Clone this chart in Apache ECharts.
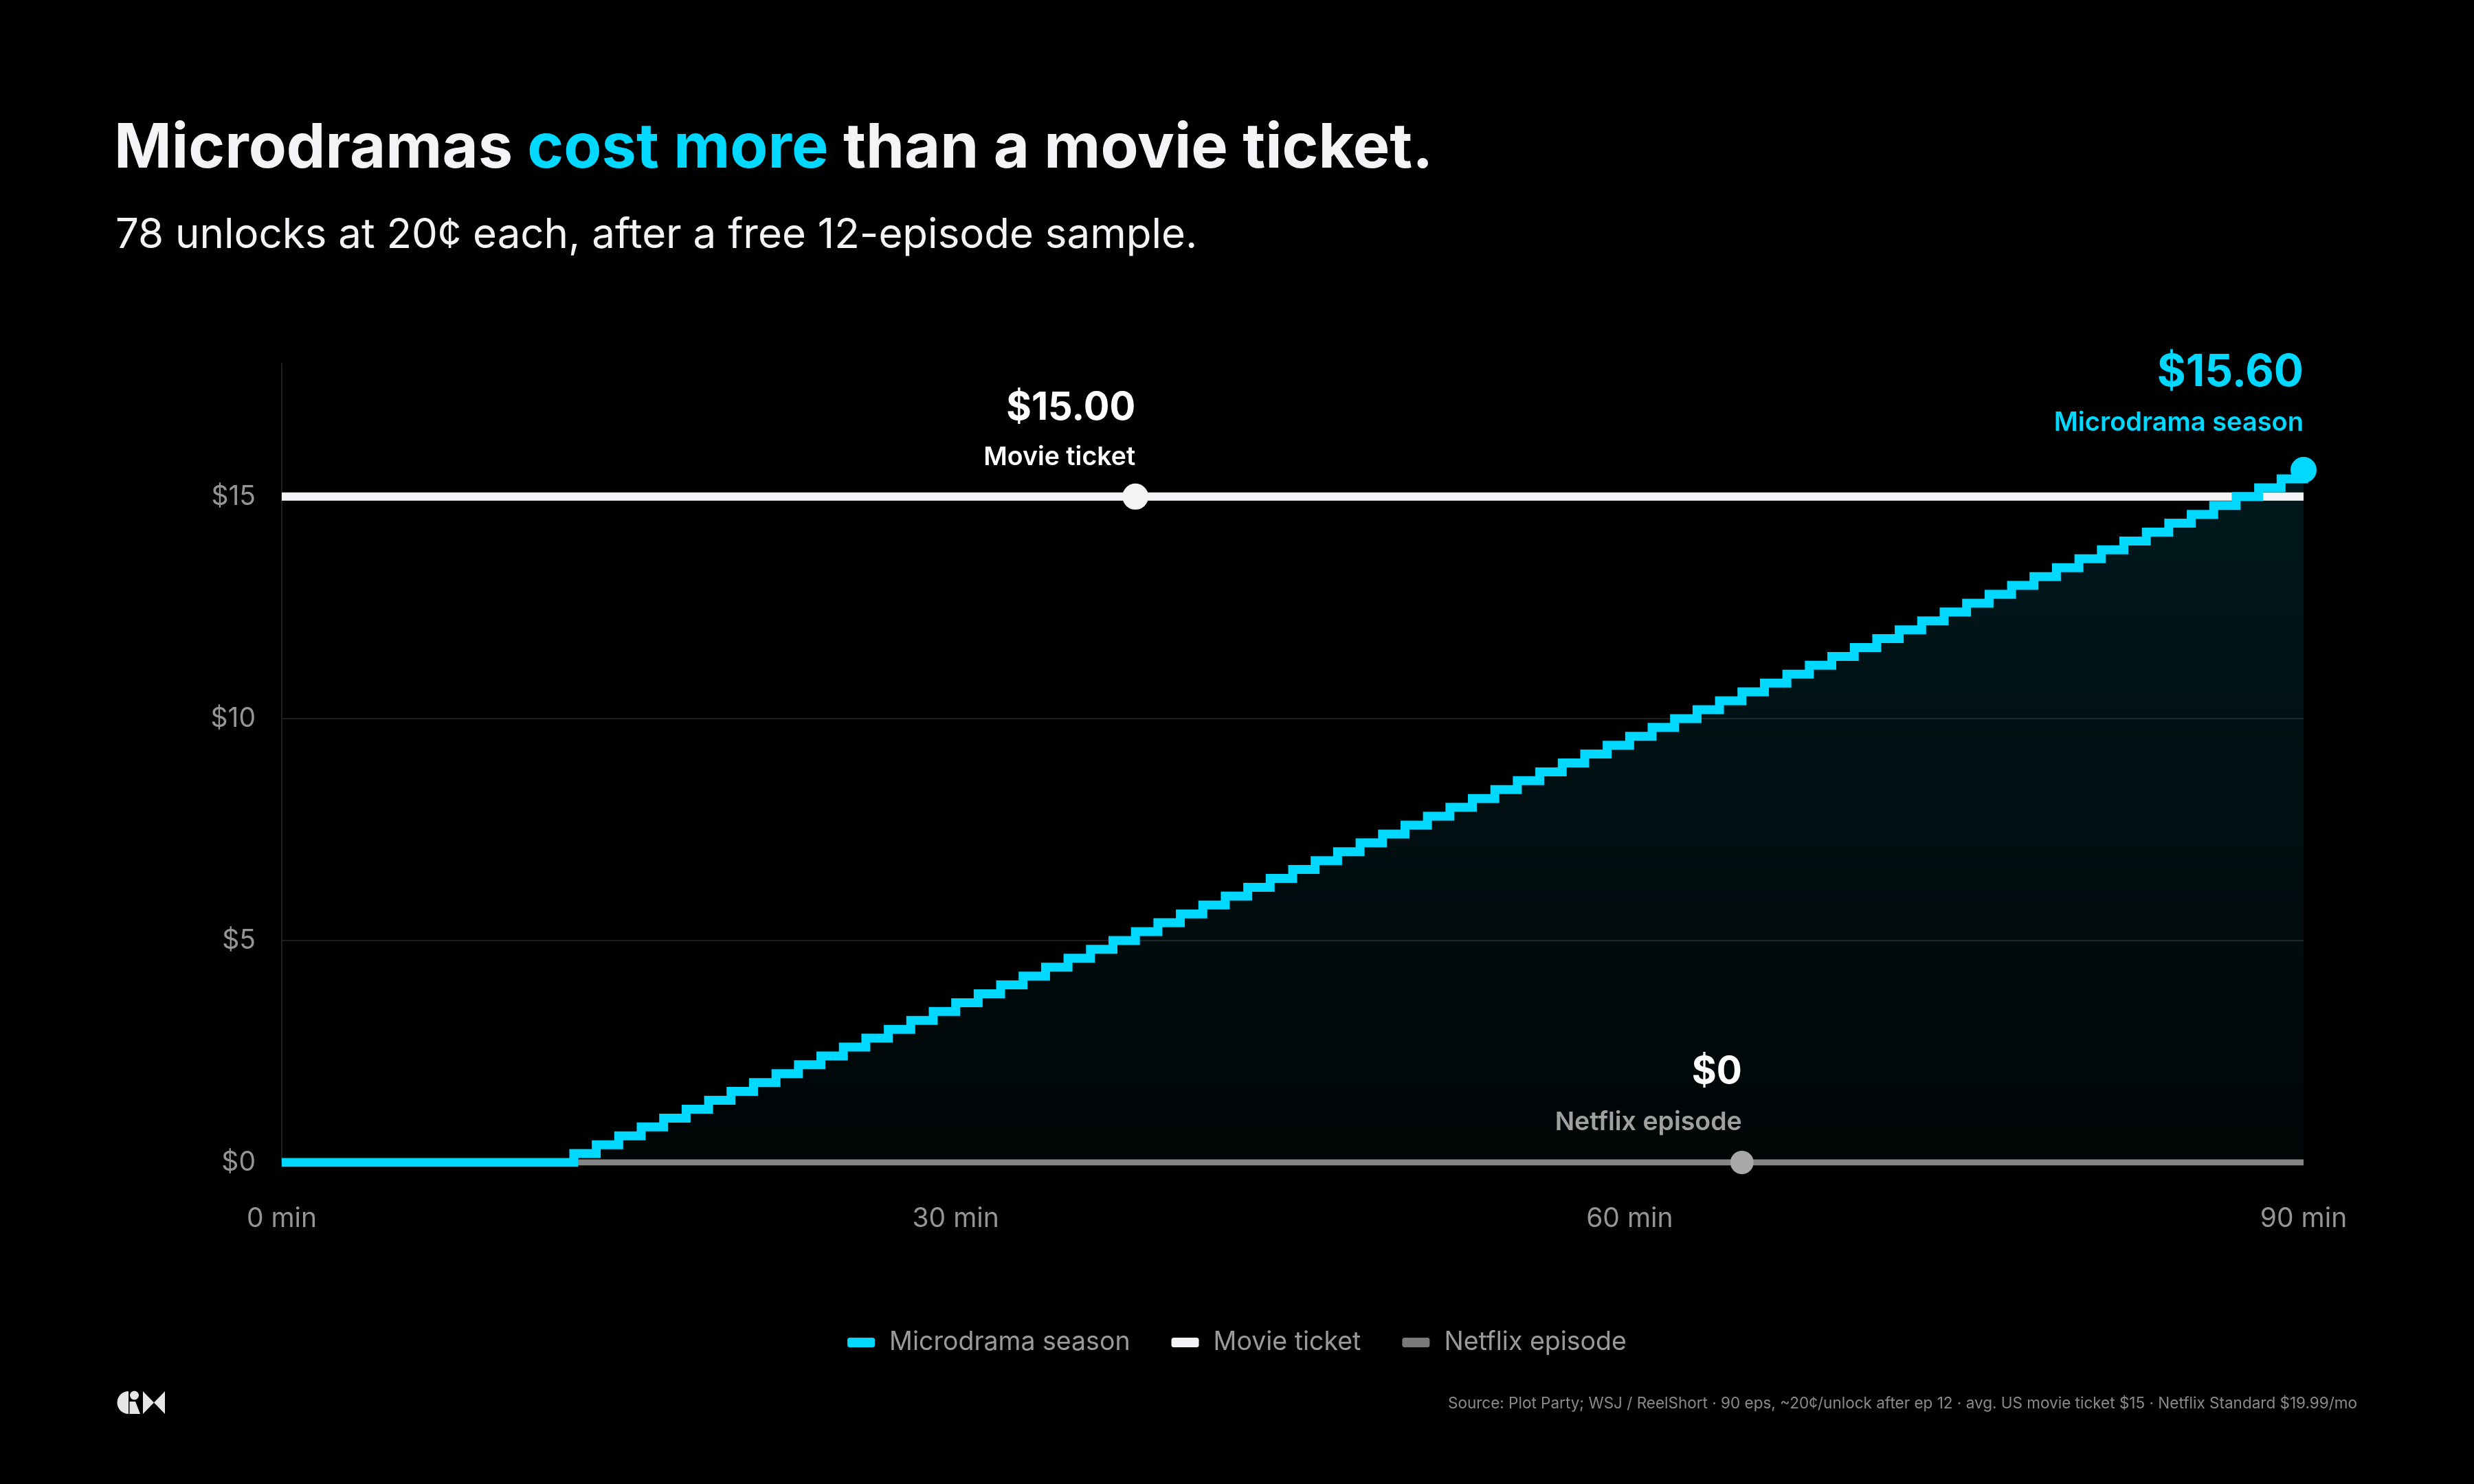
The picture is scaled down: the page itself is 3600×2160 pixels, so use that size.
<!doctype html>
<html lang="en">
<head>
    <meta charset="UTF-8">
    <title>Microdramas cost more than a movie ticket</title>
    <script src="https://cdn.jsdelivr.net/npm/echarts@6/dist/echarts.min.js"></script>
    <style>
        html, body { margin: 0; padding: 0; background: #000; }
        #main { width: 3600px; height: 2160px; }
    </style>
</head>
<body>
<div id="main"></div>
<script>
    // minutes watched (one episode per minute)
    var minutes = [0, 1, 2, 3, 4, 5, 6, 7, 8, 9, 10, 11, 12, 13, 14, 15, 16, 17, 18, 19,
        20, 21, 22, 23, 24, 25, 26, 27, 28, 29, 30, 31, 32, 33, 34, 35, 36, 37, 38, 39,
        40, 41, 42, 43, 44, 45, 46, 47, 48, 49, 50, 51, 52, 53, 54, 55, 56, 57, 58, 59,
        60, 61, 62, 63, 64, 65, 66, 67, 68, 69, 70, 71, 72, 73, 74, 75, 76, 77, 78, 79,
        80, 81, 82, 83, 84, 85, 86, 87, 88, 89, 90];
    // running cost of the microdrama season, $
    var microCost = [0, 0, 0, 0, 0, 0, 0, 0, 0, 0, 0, 0, 0,
        0.2, 0.4, 0.6, 0.8, 1.0, 1.2, 1.4, 1.6, 1.8, 2.0, 2.2, 2.4, 2.6, 2.8, 3.0, 3.2, 3.4,
        3.6, 3.8, 4.0, 4.2, 4.4, 4.6, 4.8, 5.0, 5.2, 5.4, 5.6, 5.8, 6.0, 6.2, 6.4, 6.6, 6.8,
        7.0, 7.2, 7.4, 7.6, 7.8, 8.0, 8.2, 8.4, 8.6, 8.8, 9.0, 9.2, 9.4, 9.6, 9.8, 10.0, 10.2,
        10.4, 10.6, 10.8, 11.0, 11.2, 11.4, 11.6, 11.8, 12.0, 12.2, 12.4, 12.6, 12.8, 13.0,
        13.2, 13.4, 13.6, 13.8, 14.0, 14.2, 14.4, 14.6, 14.8, 15.0, 15.2, 15.4, 15.6];
    var microLabelAt = 90;

    var movieMinutes = [0, 38, 90];
    var movieCost = [15, 15, 15];
    var movieLabelAt = 38;

    var netflixMinutes = [0, 65, 90];
    var netflixCost = [0, 0, 0];
    var netflixLabelAt = 65;

    var CYAN = '#00D8FF';
    var WHITE = '#F4F4F6';
    var GRAY = '#858585';
    var FONT = 'Inter';

    function money(v) {
        return v === 0 ? '$0' : '$' + v.toFixed(2);
    }

    function callout(color, nameColor, bigSize, bigLH, nameSize, dist) {
        return {
            show: true,
            position: 'top',
            align: 'right',
            distance: dist,
            formatter: function (p) {
                return '{v|' + money(p.value[1]) + '}\n{n|' + p.seriesName + '}';
            },
            rich: {
                v: { fontFamily: FONT, fontSize: bigSize, fontWeight: 700, color: color, lineHeight: bigLH, align: 'right' },
                n: { fontFamily: FONT, fontSize: nameSize, fontWeight: 600, color: nameColor, lineHeight: 48, align: 'right' }
            }
        };
    }

    function points(xs, ys, markAt, size, color, label) {
        return xs.map(function (x, i) {
            var item = { value: [x, ys[i]] };
            if (x === markAt) {
                item.symbol = 'circle';
                item.symbolSize = size;
                item.itemStyle = { color: color };
                item.label = label;
            }
            return item;
        });
    }

    var microPairs = minutes.map(function (m, i) { return [m, microCost[i]]; });

    var chart = echarts.init(document.getElementById('main'));
    var option = {
        backgroundColor: '#000',
        animation: false,
        title: [
            {
                left: 161,
                top: 167,
                text: '{w|Microdramas }{c|cost more}{w| than a movie ticket.}',
                textStyle: {
                    rich: {
                        w: { fontFamily: FONT, fontSize: 90, fontWeight: 700, color: WHITE },
                        c: { fontFamily: FONT, fontSize: 90, fontWeight: 700, color: CYAN }
                    }
                }
            },
            {
                left: 163,
                top: 308,
                text: '78 unlocks at 20¢ each, after a free 12-episode sample.',
                textStyle: { fontFamily: FONT, fontSize: 60, fontWeight: 400, color: WHITE }
            },
            {
                right: 165,
                top: 2027,
                text: 'Source: Plot Party; WSJ / ReelShort · 90 eps, ~20¢/unlock after ep 12 · avg. US movie ticket $15 · Netflix Standard $19.99/mo',
                textStyle: { fontFamily: FONT, fontSize: 22.5, fontWeight: 400, color: '#8a8a8a' }
            }
        ],
        legend: {
            data: ['Microdrama season', 'Movie ticket', 'Netflix episode'],
            left: 'center',
            top: 1930,
            icon: 'roundRect',
            itemWidth: 40,
            itemHeight: 14,
            itemGap: 60,
            itemStyle: { borderWidth: 0 },
            textStyle: { fontFamily: FONT, fontSize: 37.5, color: '#9a9a9a', padding: [0, 0, 0, 16] }
        },
        grid: { left: 410, right: 248, top: 529, bottom: 468 },
        xAxis: {
            type: 'value',
            min: 0,
            max: 90,
            interval: 30,
            axisLine: { show: false },
            axisTick: { show: false },
            splitLine: { show: false },
            axisLabel: { formatter: '{value} min', fontFamily: FONT, fontSize: 39, color: '#959595', margin: 63 }
        },
        yAxis: {
            type: 'value',
            min: 0,
            max: 18,
            interval: 5,
            axisLine: { show: true, lineStyle: { color: '#1f1f1f', width: 2 } },
            axisTick: { show: false },
            splitLine: { show: true, showMinLine: false, showMaxLine: false, lineStyle: { color: '#1e1e1e', width: 2 } },
            axisLabel: {
                formatter: '${value}', fontFamily: FONT, fontSize: 39, color: '#959595', margin: 38,
                showMaxLabel: false
            }
        },
        series: [
            {
                name: 'Microdrama area',
                type: 'line',
                step: 'end',
                data: microPairs,
                symbol: 'none',
                silent: true,
                lineStyle: { width: 0, opacity: 0 },
                areaStyle: {
                    color: new echarts.graphic.LinearGradient(0, 0, 0, 1, [
                        { offset: 0, color: 'rgba(0,216,255,0.17)' },
                        { offset: 1, color: 'rgba(0,216,255,0.03)' }
                    ])
                },
                z: 1
            },
            {
                name: 'Netflix episode',
                type: 'line',
                data: points(netflixMinutes, netflixCost, netflixLabelAt, 34, '#a8a8a8',
                    callout('#ffffff', '#a0a0a0', 55, 100, 37.5, 17)),
                symbol: 'none',
                showSymbol: true,
                color: '#7a7a7a',
                lineStyle: { color: GRAY, width: 9, cap: 'butt' },
                z: 2
            },
            {
                name: 'Movie ticket',
                type: 'line',
                data: points(movieMinutes, movieCost, movieLabelAt, 38, WHITE,
                    callout('#ffffff', '#ffffff', 56, 96, 37.5, 14)),
                symbol: 'none',
                showSymbol: true,
                color: WHITE,
                lineStyle: { color: WHITE, width: 12, cap: 'butt' },
                z: 3
            },
            {
                name: 'Microdrama season',
                type: 'line',
                step: 'end',
                data: points(minutes, microCost, microLabelAt, 38, CYAN,
                    callout(CYAN, CYAN, 64, 98, 38, 25)),
                symbol: 'none',
                showSymbol: true,
                color: CYAN,
                lineStyle: { color: CYAN, width: 13, cap: 'butt', join: 'miter' },
                z: 4
            }
        ],
        graphic: [
            // small brand mark, bottom left
            { type: 'sector', shape: { cx: 187, cy: 2041.5, r: 16.5, startAngle: Math.PI / 2, endAngle: Math.PI * 1.5 }, style: { fill: '#e6e6e6' } },
            { type: 'circle', shape: { cx: 195.5, cy: 2031, r: 6.5 }, style: { fill: '#e6e6e6' } },
            { type: 'polygon', shape: { points: [[188.5, 2040], [197, 2040], [204, 2058], [188.5, 2058]] }, style: { fill: '#e6e6e6' } },
            { type: 'polygon', shape: { points: [[208, 2025], [224, 2041.5], [208, 2058]] }, style: { fill: '#e6e6e6' } },
            { type: 'polygon', shape: { points: [[240, 2025], [224, 2041.5], [240, 2058]] }, style: { fill: '#e6e6e6' } }
        ]
    };
    chart.setOption(option);
</script>
</body>
</html>
